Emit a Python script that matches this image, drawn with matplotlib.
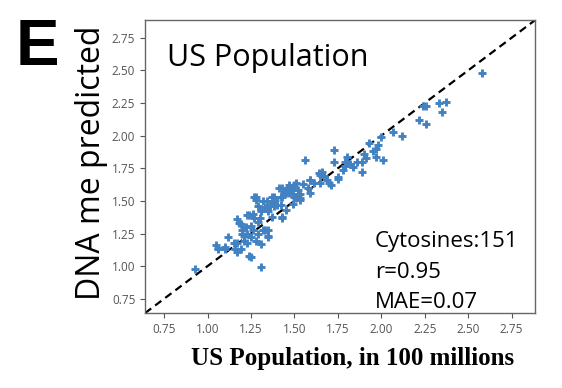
import numpy as np
import matplotlib
matplotlib.use('Agg')
import matplotlib.pyplot as plt

actual = [0.93, 1.31, 1.24, 1.25, 1.05, 1.10, 1.06, 1.12, 1.17, 1.16,
          1.23, 1.21, 1.23, 1.28, 1.31, 1.35, 1.17, 1.18, 1.23, 1.27,
          1.28, 1.31, 1.37, 1.37, 1.35, 1.43, 1.43, 1.47, 1.50, 1.48,
          1.45, 1.42, 1.50, 1.53, 1.56, 1.59, 1.59, 1.64, 1.66, 1.65,
          1.71, 1.73, 1.73, 1.75, 1.79, 1.80, 1.84, 1.89, 1.89, 1.90,
          1.93, 1.95, 1.97, 1.98, 1.97, 2.01, 2.00, 2.07, 2.12, 2.22,
          2.24, 2.26, 2.26, 2.33, 2.35, 2.37, 2.58,
          1.79, 1.65, 1.59, 1.70, 1.75, 1.51, 1.49, 1.46, 1.44, 1.47,
          1.43, 1.39, 1.37, 1.38, 1.42, 1.49, 1.51, 1.53, 1.28, 1.32,
          1.24, 1.27, 1.31, 1.35, 1.37, 1.43, 1.45, 1.25, 1.20, 1.35,
          1.32,
          1.29, 1.19, 1.29, 1.26, 1.29, 1.33, 1.20, 1.21, 1.17, 1.19,
          1.06, 1.10,
          1.26, 1.30, 1.33, 1.40, 1.44, 1.47, 1.52, 1.55, 1.58, 1.61,
          1.67, 1.69, 1.78, 1.82, 1.86, 1.91, 1.38, 1.41, 1.34, 1.22,
          1.25, 1.15, 1.36, 1.49, 1.53]
predicted = [0.98, 0.99, 1.08, 1.07, 1.16, 1.15, 1.13, 1.22, 1.18, 1.13,
             1.18, 1.23, 1.25, 1.19, 1.17, 1.22, 1.36, 1.33, 1.39, 1.53,
             1.51, 1.42, 1.53, 1.50, 1.28, 1.60, 1.38, 1.62, 1.62, 1.58,
             1.56, 1.53, 1.53, 1.52, 1.81, 1.66, 1.56, 1.71, 1.72, 1.64,
             1.62, 1.89, 1.80, 1.67, 1.77, 1.84, 1.76, 1.72, 1.80, 1.86,
             1.94, 1.88, 1.90, 1.93, 1.84, 1.81, 1.99, 2.03, 2.00, 2.12,
             2.23, 2.23, 2.09, 2.25, 2.18, 2.26, 2.48,
             1.80, 1.70, 1.66, 1.64, 1.68, 1.64, 1.61, 1.60, 1.57, 1.56,
             1.53, 1.51, 1.50, 1.46, 1.47, 1.48, 1.52, 1.51, 1.53, 1.50,
             1.39, 1.37, 1.43, 1.42, 1.38, 1.37, 1.43, 1.31, 1.28, 1.23,
             1.28,
             1.46, 1.32, 1.34, 1.28, 1.25, 1.28, 1.25, 1.19, 1.11, 1.13,
             1.14, 1.13,
             1.40, 1.37, 1.45, 1.47, 1.55, 1.58, 1.58, 1.63, 1.60, 1.64,
             1.69, 1.66, 1.74, 1.78, 1.80, 1.83, 1.53, 1.60, 1.50, 1.30,
             1.22, 1.18, 1.46, 1.55, 1.55]

ticks = [0.75, 1.00, 1.25, 1.50, 1.75, 2.00, 2.25, 2.50, 2.75]
lo, hi = 0.64, 2.885

fig = plt.figure(figsize=(5.62, 3.88), dpi=100)
ax = fig.add_axes([0.258, 0.193, 0.694, 0.755])

ax.scatter(actual, predicted, marker='+', s=32, linewidths=2.1, color='#4282c3', zorder=3)
ax.plot([lo, hi], [lo, hi], '--', color='k', linewidth=1.6, dashes=(3.5, 2.2), zorder=2)

ax.set_xlim(lo, hi)
ax.set_ylim(lo, hi)
ax.set_xticks(ticks)
ax.set_yticks(ticks)
ax.set_xticklabels(['%.2f' % t for t in ticks], family='Open Sans')
ax.set_yticklabels(['%.2f' % t for t in ticks], family='Open Sans')
ax.tick_params(labelsize=8.5, colors='#555555', length=3.5, width=0.8, pad=3.5)
for s in ax.spines.values():
    s.set_color('#666666')
    s.set_linewidth(1.0)

ax.text(0.057, 0.843, 'US Population', transform=ax.transAxes, fontsize=22,
        family='Open Sans', va='baseline', ha='left')
stats = ['Cytosines:151', 'r=0.95', 'MAE=0.07']
for txt, yy in zip(stats, [0.225, 0.119, 0.019]):
    ax.text(0.59, yy, txt, transform=ax.transAxes, fontsize=16,
            family='Open Sans', va='baseline', ha='left')

ax.set_ylabel('DNA me predicted', family='Open Sans', fontsize=23)
ax.yaxis.set_label_coords(-0.095, 0.512)

fig.text(0.627, 0.059, 'US Population, in 100 millions', family='Liberation Serif',
         fontweight='bold', fontsize=18, ha='center', va='baseline')

fig.text(0.027, 0.8325, 'E', fontsize=47, fontweight='bold', family='Liberation Sans',
         va='baseline', ha='left')

fig.savefig('out.png', dpi=100)
